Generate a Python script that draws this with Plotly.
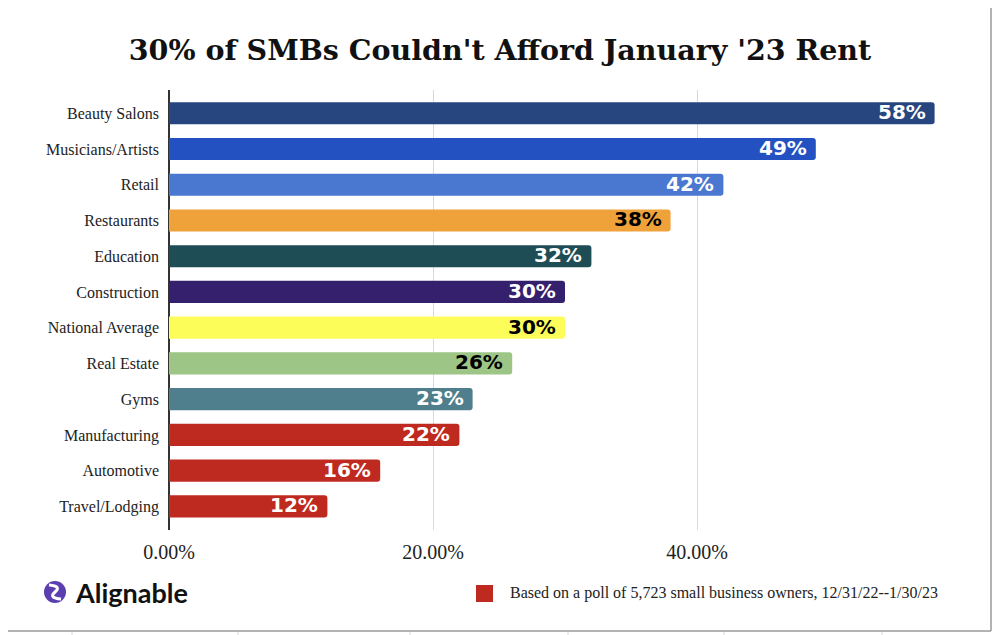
import plotly.graph_objects as go

categories = ["Beauty Salons", "Musicians/Artists", "Retail", "Restaurants", "Education",
              "Construction", "National Average", "Real Estate", "Gyms", "Manufacturing",
              "Automotive", "Travel/Lodging"]
values = [0.58, 0.49, 0.42, 0.38, 0.32, 0.30, 0.30, 0.26, 0.23, 0.22, 0.16, 0.12]
bar_colors = ["#27457f", "#2351c2", "#4a78d0", "#f0a23a", "#1f4d55", "#34206c",
              "#fdfd5a", "#9dc585", "#4f7f8c", "#bf2a20", "#bf2a20", "#bf2a20"]
label_colors = ["white", "white", "white", "black", "white", "white",
                "black", "black", "white", "white", "white", "white"]
tick_vals = [0, 0.2, 0.4, 0.6]
tick_text = ["0.00%", "20.00%", "40.00%", ""]
title_text = "30% of SMBs Couldn't Afford January '23 Rent"
note_text = "Based on a poll of 5,723 small business owners, 12/31/22--1/30/23"

# page body has an 8px margin: the figure is drawn 8px right/down of the window origin
OFF = 8
W, H = 1000 - OFF, 635 - OFF
L = 169 - OFF
T = 90 - OFF
R = W - (961 - OFF)
B = H - (530 - OFF)
PW, PH = W - L - R, H - T - B

def px(x):
    # window pixel -> plot-area paper fraction
    return (x - OFF - L) / PW

def py(y):
    return 1 - (y - OFF - T) / PH

fig = go.Figure(go.Bar(
    x=values, y=categories, orientation="h",
    marker=dict(color=bar_colors, cornerradius=3, line=dict(width=0)),
    width=0.62, hoverinfo="skip",
))

annotations = []
for c, v, lc in zip(categories, values, label_colors):
    annotations.append(dict(
        x=v, y=c, xref="x", yref="y", text=f"{round(v*100)}%", showarrow=False,
        xanchor="right", xshift=-7, yshift=1,
        font=dict(family="DejaVu Sans", size=20, color=lc, weight="bold"),
    ))

annotations.append(dict(
    x=px(508), y=py(593), xref="paper", yref="paper", text=note_text, showarrow=False,
    xanchor="left", yanchor="middle",
    font=dict(family="Liberation Serif", size=16, color="#222"),
))
annotations.append(dict(
    x=px(73), y=py(592), xref="paper", yref="paper", text="Alignable", showarrow=False,
    xanchor="left", yanchor="middle",
    font=dict(family="Lato", size=27, color="#111", weight="bold"),
))

shapes = []
border = dict(color="#9a9a9a", width=1.5)
# visible parts of the card border
shapes.append(dict(type="line", xref="paper", yref="paper",
                   x0=px(991), x1=px(991), y0=py(8), y1=py(631), line=border))
shapes.append(dict(type="line", xref="paper", yref="paper",
                   x0=px(8), x1=px(991), y0=py(631), y1=py(631), line=border))
for gx in [72, 238, 410, 568, 724, 882]:
    shapes.append(dict(type="line", xref="paper", yref="paper",
                       x0=px(gx), x1=px(gx), y0=py(632), y1=py(635),
                       line=dict(color="#d8d8d8", width=1)))
# legend swatch
shapes.append(dict(type="rect", xref="paper", yref="paper",
                   x0=px(476), x1=px(493), y0=py(585), y1=py(602),
                   fillcolor="#bf2a20", line=dict(color="#bf2a20", width=0)))
# logo icon
shapes.append(dict(type="circle", xref="paper", yref="paper",
                   x0=px(44), x1=px(66), y0=py(581), y1=py(603),
                   fillcolor="#5b3fb0", line=dict(width=0)))
shapes.append(dict(type="path", xref="paper", yref="paper",
                   path=(f"M {px(49)},{py(585)} Q {px(62)},{py(586)} {px(55)},{py(592)} "
                         f"Q {px(48)},{py(598)} {px(61)},{py(599)}"),
                   line=dict(color="white", width=3)))

fig.update_layout(
    width=W, height=H,
    margin=dict(l=L, r=R, t=T, b=B),
    paper_bgcolor="white", plot_bgcolor="white",
    title=dict(text=title_text, x=(500 - OFF) / W, xref="container", xanchor="center",
               y=1 - (50 - OFF) / H, yref="container", yanchor="middle",
               font=dict(family="DejaVu Serif", size=28.5, color="#111", weight="bold")),
    xaxis=dict(range=[0, 0.6], tickvals=tick_vals, ticktext=tick_text,
               showgrid=True, gridcolor="#d9d9d9", gridwidth=1,
               zeroline=True, zerolinecolor="#333", zerolinewidth=2,
               showline=False, ticks="", fixedrange=True, ticklabelstandoff=8,
               tickfont=dict(family="Liberation Serif", size=20, color="#222")),
    yaxis=dict(autorange=False, range=[11.66, -0.65], categoryorder="array",
               categoryarray=categories, showgrid=False, zeroline=False,
               showline=False, ticks="", ticklabelstandoff=9,
               tickfont=dict(family="Liberation Serif", size=16, color="#222")),
    showlegend=False,
    annotations=annotations, shapes=shapes,
)

fig.write_html("out.html")
